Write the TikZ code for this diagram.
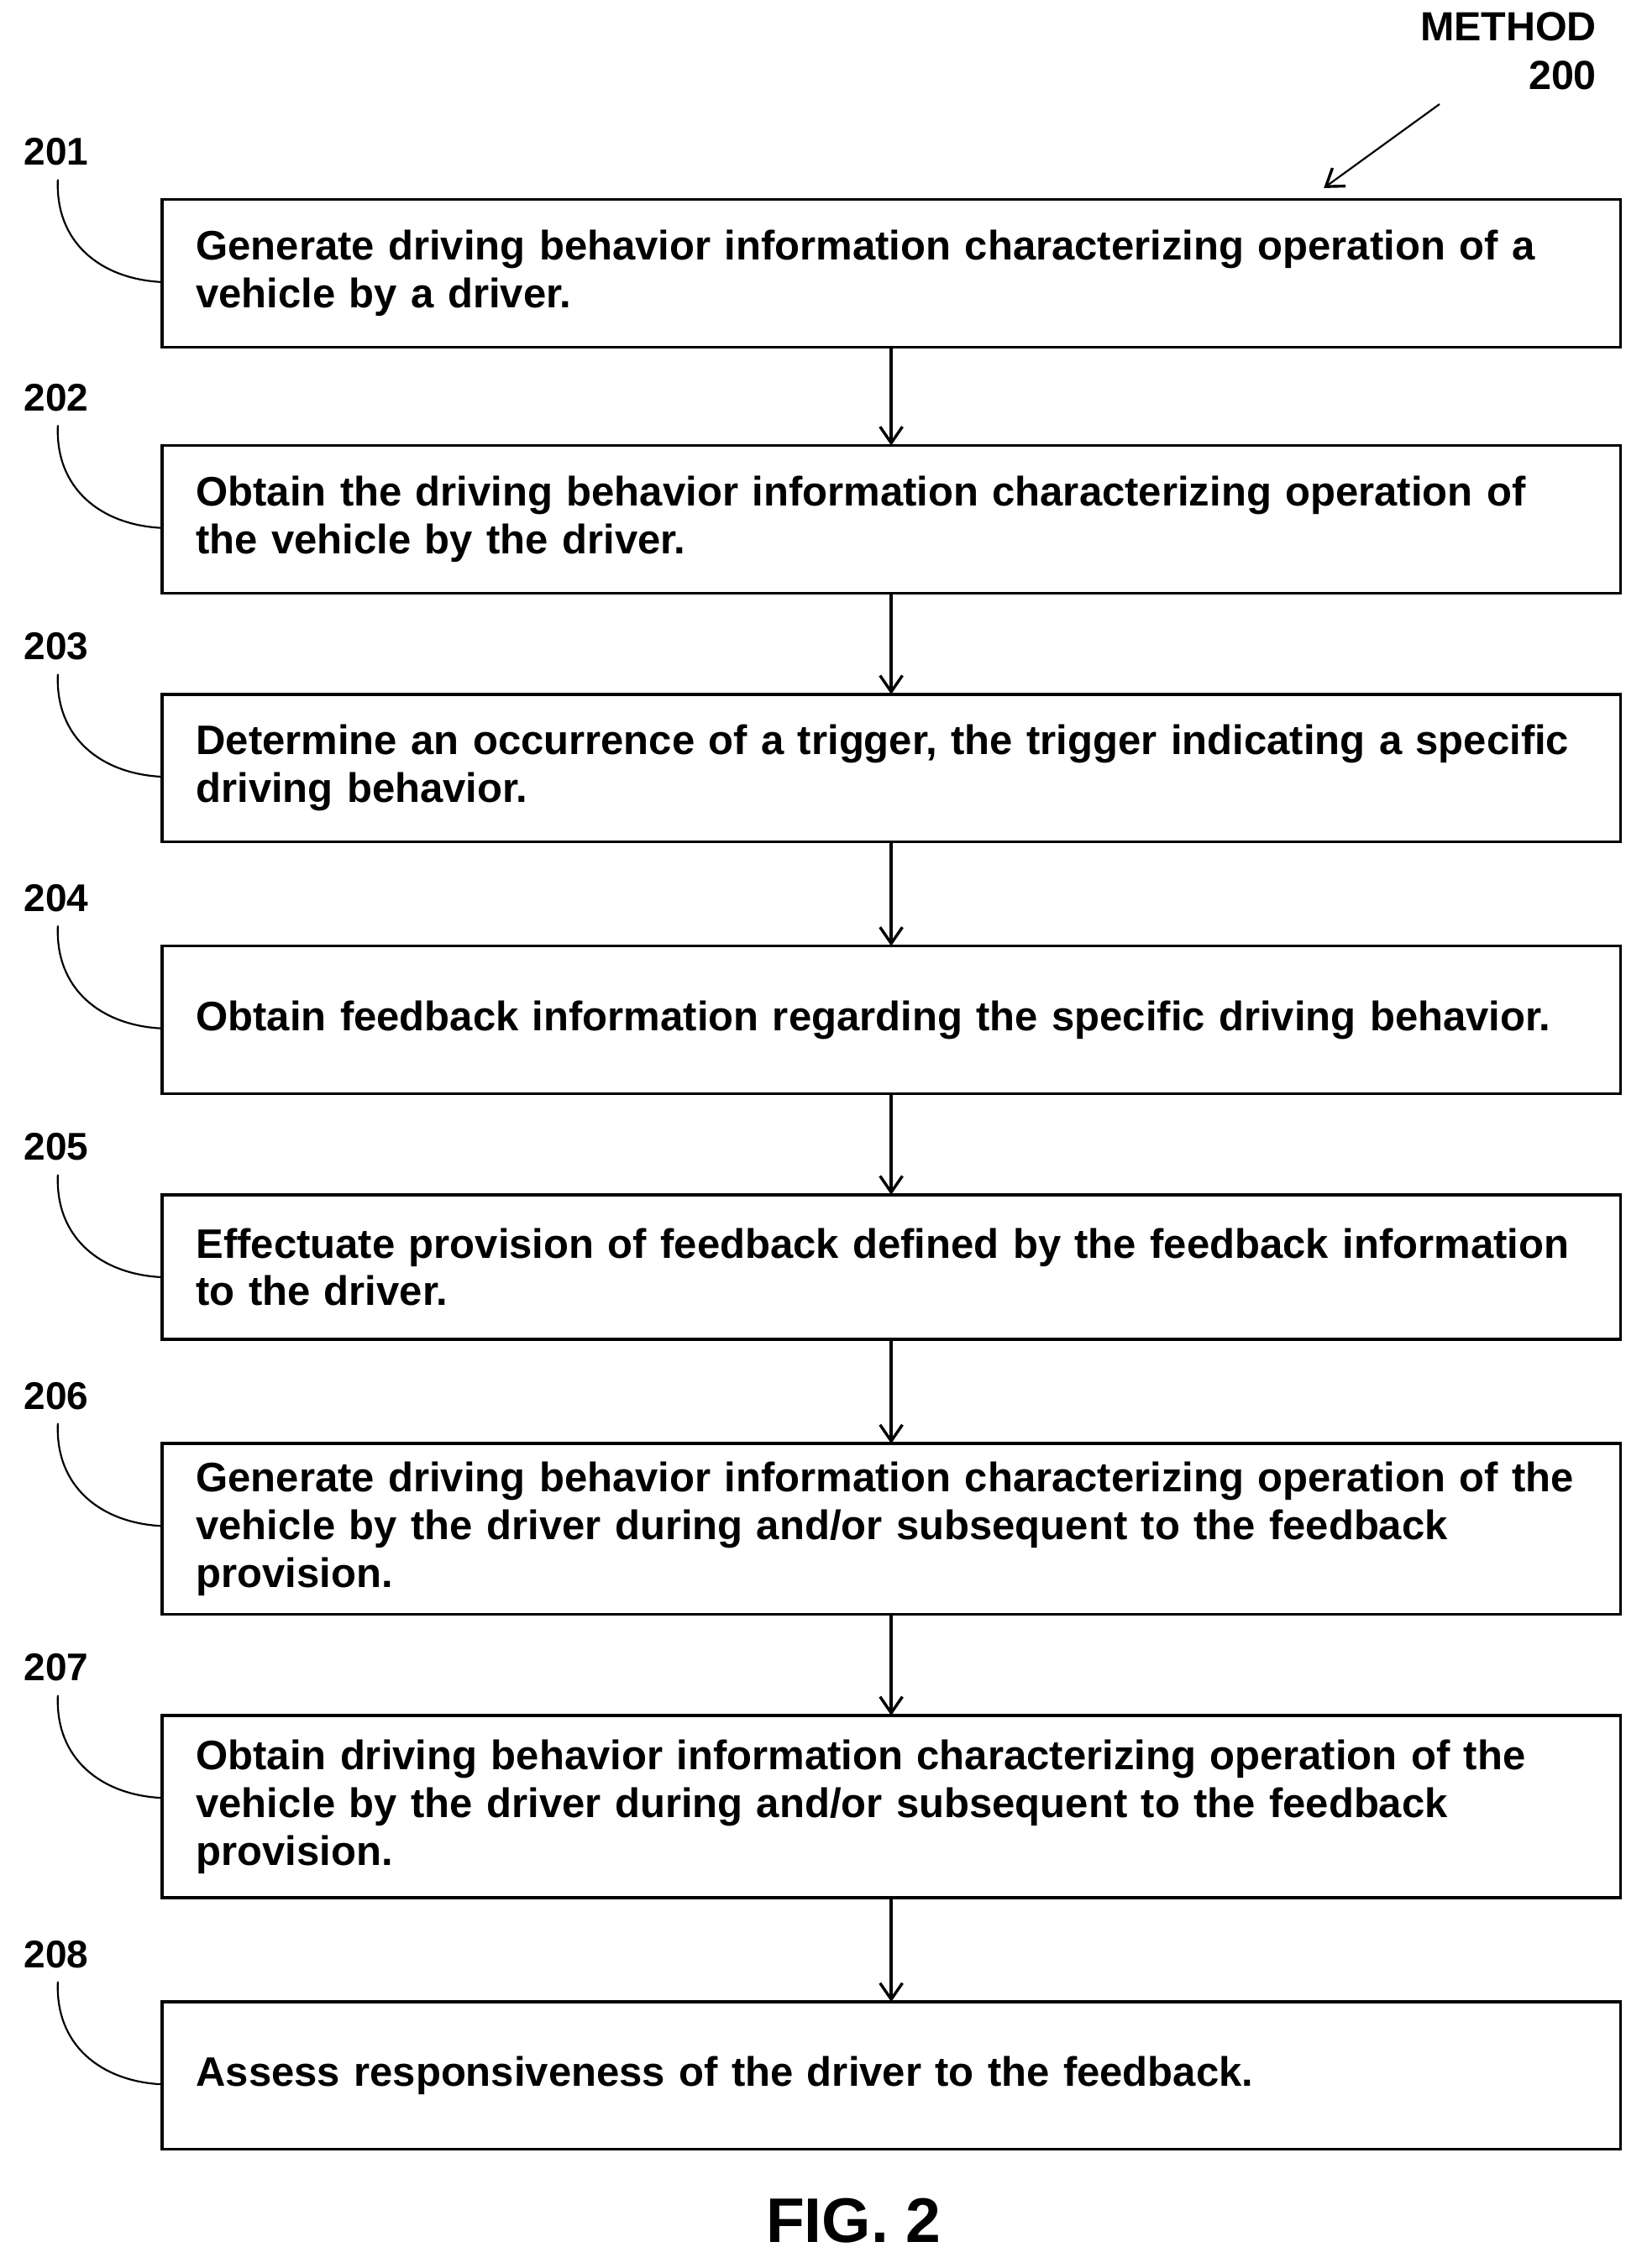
\documentclass[tikz,border=0pt]{standalone}
\usepackage{fontspec}
\setmainfont{Liberation Sans}
\usetikzlibrary{arrows.meta}
\begin{document}
\begin{tikzpicture}[x=0.05cm,y=-0.05cm,
  txt/.style={anchor=west,align=left,text width=49.5cm,font=\fontsize{40.5}{47}\selectfont\bfseries},
  lab/.style={font=\fontsize{38}{46}\selectfont\bfseries},
  lead/.style={line width=1.8pt},
  arr/.style={line width=2.8pt,-{Straight Barb[length=16pt,width=22pt,line width=2.8pt]}}]
\useasboundingbox (0,0) rectangle (1138,1568);
\foreach \n/\ya/\yb/\t [count=\i] in {
 201/138/240/{Generate driving behavior information characterizing operation of a\\vehicle by a driver.},
 202/308/410/{Obtain the driving behavior information characterizing operation of\\the vehicle by the driver.},
 203/480/582/{Determine an occurrence of a trigger, the trigger indicating a specific\\driving behavior.},
 204/654/756/{Obtain feedback information regarding the specific driving behavior.},
 205/826/926/{Effectuate provision of feedback defined by the feedback information\\to the driver.},
 206/998/1116/{Generate driving behavior information characterizing operation of the\\vehicle by the driver during and/or subsequent to the feedback\\provision.},
 207/1186/1312/{Obtain driving behavior information characterizing operation of the\\vehicle by the driver during and/or subsequent to the feedback\\provision.},
 208/1384/1486/{Assess responsiveness of the driver to the feedback.}}
{
 \draw[line width=2.8pt] (112,\ya) rectangle (1120,\yb);
 \coordinate (b\i) at (616,\ya);
 \coordinate (e\i) at (616,\yb);
 \node[txt] (t\i) at (133,{(\ya+\yb)/2}) {\t};
 \node[lab] (l\i) at (39,{\ya-33}) {\n};
 \draw[lead] (40,{\ya-14}) .. controls (38,{\ya+30}) and (70,{\ya+55}) .. (112,{\ya+57});
}
\foreach \a/\b in {1/2,2/3,3/4,4/5,5/6,6/7,7/8}{\draw[arr] (e\a) -- (b\b);}
\node[font=\fontsize{40}{48}\selectfont\bfseries,align=right,anchor=north east] (m) at (1106,6) {METHOD\\200};
\coordinate (mt) at (995,72);
\draw[arr,line width=1.8pt] (mt) -- (915,130);
\node[font=\fontsize{62}{70}\selectfont\bfseries] (fig) at (590,1535) {FIG. 2};
\end{tikzpicture}
\end{document}
